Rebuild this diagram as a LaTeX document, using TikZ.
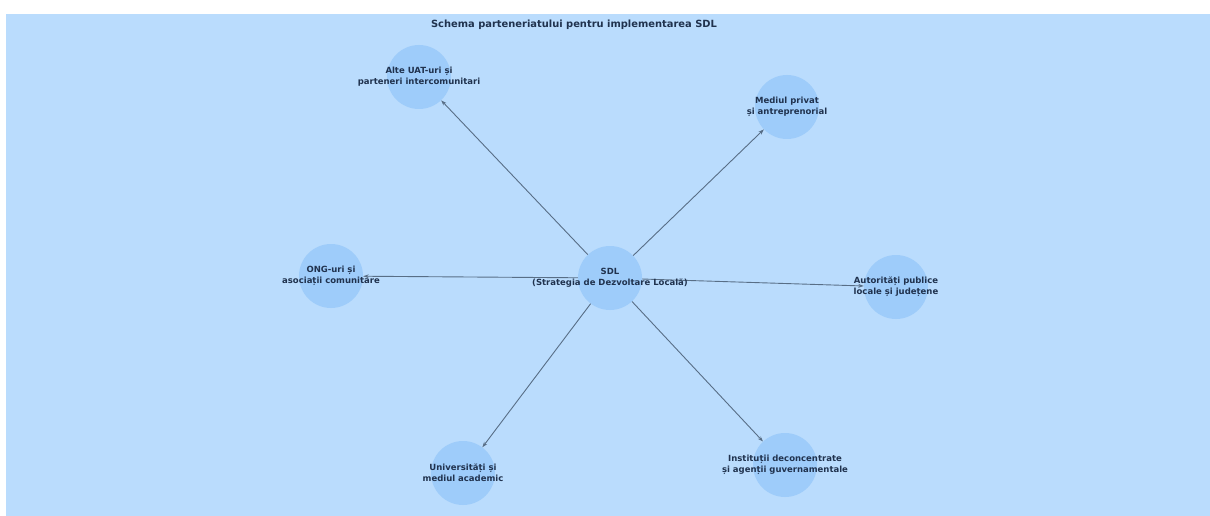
\documentclass[tikz,border=0pt]{standalone}
\usepackage{fontspec}
\setmainfont{DejaVu Sans}
\usetikzlibrary{arrows.meta}
\definecolor{bgblue}{RGB}{186,220,253}
\definecolor{nodeblue}{RGB}{158,204,250}
\definecolor{txtnavy}{RGB}{32,50,78}
\definecolor{linkgray}{RGB}{88,110,134}
\tikzset{
    partner/.style={circle, fill=nodeblue, minimum size=64pt, inner sep=0pt},
    partnertext/.style={text=txtnavy, font=\bfseries\fontsize{8.5}{10.8}\selectfont, align=center, inner sep=0pt},
    link/.style={draw=linkgray, line width=0.9pt, -{Stealth[length=5.5pt,width=3.8pt]}}
}
\begin{document}
\begin{tikzpicture}[x=1pt, y=-1pt]
        \useasboundingbox[fill=white] (0,0) rectangle (1210,516);
        \fill[bgblue] (6,14) rectangle (1210,516);
        \node[text=txtnavy, font=\bfseries\fontsize{9.9}{11}\selectfont] (title) at (574,25) {Schema parteneriatului pentru implementarea SDL};

        \node[partner] (sdl) at (610,278) {};
        \node[partner] (uat) at (419,77) {};
        \node[partner] (priv) at (787,107) {};
        \node[partner] (ong) at (331,276) {};
        \node[partner] (aut) at (896,287) {};
        \node[partner] (univ) at (463,473) {};
        \node[partner] (inst) at (785,465) {};

        \draw[link] (sdl) -- (uat);
        \draw[link] (sdl) -- (priv);
        \draw[link] (sdl) -- (ong);
        \draw[link] (sdl) -- (aut);
        \draw[link] (sdl) -- (univ);
        \draw[link] (sdl) -- (inst);

        \node[partnertext] (sdl-t) at (sdl) {SDL\\(Strategia de Dezvoltare Locală)};
        \node[partnertext] (uat-t) at (uat) {Alte UAT-uri și\\parteneri intercomunitari};
        \node[partnertext] (priv-t) at (priv) {Mediul privat\\și antreprenorial};
        \node[partnertext] (ong-t) at (ong) {ONG-uri și\\asociații comunitare};
        \node[partnertext] (aut-t) at (aut) {Autorități publice\\locale și județene};
        \node[partnertext] (univ-t) at (univ) {Universități și\\mediul academic};
        \node[partnertext] (inst-t) at (inst) {Instituții deconcentrate\\și agenții guvernamentale};
\end{tikzpicture}
\end{document}
